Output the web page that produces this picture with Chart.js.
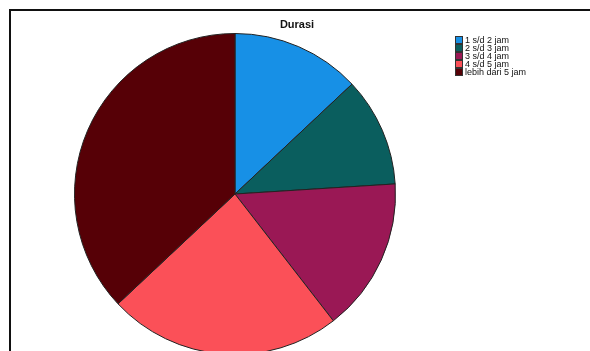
<!DOCTYPE html>
<html><head><meta charset="utf-8">
<script src="https://cdn.jsdelivr.net/npm/chart.js@4/dist/chart.umd.min.js"></script>
<style>
html,body{margin:0;padding:0;background:#fff;overflow:hidden;width:590px;height:351px;}
#frame{position:absolute;left:9px;top:9px;width:700px;height:500px;border-left:2px solid #111;border-top:2px solid #111;}
#wrap{position:absolute;left:0;top:0;width:590px;height:360px;}
</style></head>
<body>
<div id="frame"></div>
<div id="wrap"><canvas id="c" width="590" height="360"></canvas></div>
<script>
const categories = ["1 s/d 2 jam","2 s/d 3 jam","3 s/d 4 jam","4 s/d 5 jam","lebih dari 5 jam"];
const counts = [26, 22, 31, 47, 74];
const colors = ["#1790e6","#0a5e5e","#9a1855","#fb5058","#560006"];
const titleText = "Durasi";

const overlay = {
  id:'overlay',
  afterDraw(chart){
    const ctx = chart.ctx;
    ctx.save();
    ctx.fillStyle = '#111';
    ctx.font = 'bold 11px "Liberation Sans", Arial, sans-serif';
    ctx.textAlign = 'center'; ctx.textBaseline = 'middle';
    ctx.fillText(titleText, 297, 25);
    ctx.font = '9px "Liberation Sans", Arial, sans-serif';
    ctx.textAlign = 'left';
    categories.forEach((lab,i)=>{
      const y = 40 + i*8;
      ctx.fillStyle = colors[i];
      ctx.fillRect(455.5, y-3.5, 7, 7);
      ctx.strokeStyle = '#333'; ctx.lineWidth = 1;
      ctx.strokeRect(455.5, y-3.5, 7, 7);
      ctx.fillStyle = '#111';
      ctx.fillText(lab, 465, y+0.5);
    });
    ctx.restore();
  }
};

new Chart(document.getElementById('c'), {
  type:'pie',
  data:{labels:categories, datasets:[{data:counts, backgroundColor:colors, borderColor:'#222', borderWidth:1, hoverOffset:0, offset:0}]},
  options:{
    responsive:false, animation:false, events:[],
    layout:{padding:{left:74, right:194, top:33, bottom:5}},
    plugins:{legend:{display:false}, title:{display:false}, tooltip:{enabled:false}}
  },
  plugins:[overlay]
});
</script>
</body></html>
